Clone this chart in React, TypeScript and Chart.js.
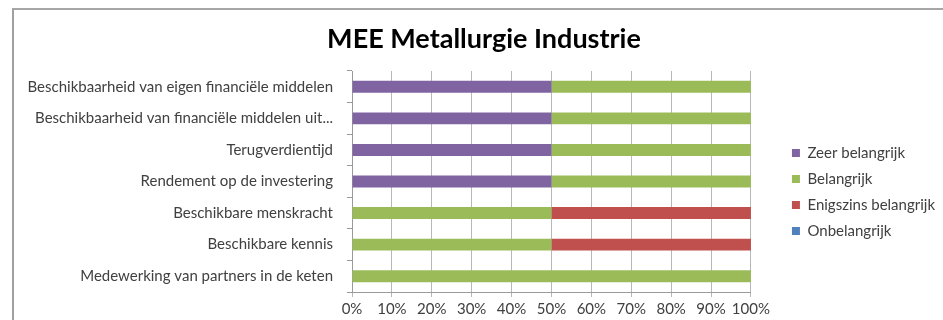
import React, { useEffect, useRef } from "react";
import { Chart, registerables } from "chart.js";

Chart.register(...registerables);

const categories = [
  "Beschikbaarheid van eigen financiële middelen",
  "Beschikbaarheid van financiële middelen uit...",
  "Terugverdientijd",
  "Rendement op de investering",
  "Beschikbare menskracht",
  "Beschikbare kennis",
  "Medewerking van partners in de keten",
];

const zeerBelangrijk = [50, 50, 50, 50, 0, 0, 0];
const belangrijk = [50, 50, 50, 50, 50, 50, 100];
const enigszinsBelangrijk = [0, 0, 0, 0, 50, 50, 0];
const onbelangrijk = [0, 0, 0, 0, 0, 0, 0];

const seriesNames = ["Zeer belangrijk", "Belangrijk", "Enigszins belangrijk", "Onbelangrijk"];
const seriesColors = ["#8064A2", "#9BBB59", "#C0504D", "#4F81BD"];

const xTickValues = [0, 10, 20, 30, 40, 50, 60, 70, 80, 90, 100];

const FONT = "Lato, 'Open Sans', sans-serif";

const layoutTweak = {
  id: "layoutTweak",
  afterLayout(chart: any) {
    const lg = chart.legend;
    if (lg) {
      const dx = 30;
      const dy = 27;
      lg.left += dx;
      lg.right += dx;
      lg.top += dy;
      lg.bottom += dy;
    }
    const tb = chart.titleBlock;
    if (tb) {
      tb.left = 0;
      tb.right = 940;
    }
  },
};

export default function App() {
  const ref = useRef<HTMLCanvasElement | null>(null);

  useEffect(() => {
    if (!ref.current) return;
    const seriesData = [zeerBelangrijk, belangrijk, enigszinsBelangrijk, onbelangrijk];
    const chart = new Chart(ref.current, {
      type: "bar",
      data: {
        labels: categories,
        datasets: seriesNames.map((name, i) => ({
          label: name,
          data: seriesData[i],
          backgroundColor: seriesColors[i],
          borderWidth: 0,
          barPercentage: 0.9,
          categoryPercentage: 0.42,
        })),
      },
      options: {
        indexAxis: "y",
        animation: false,
        responsive: false,
        maintainAspectRatio: false,
        events: [],
        layout: { padding: { left: 0, right: 43, top: 0, bottom: 0 } },
        plugins: {
          title: {
            display: true,
            text: "MEE Metallurgie Industrie",
            color: "#000000",
            font: { family: FONT, size: 27, weight: "bold" },
            padding: { top: 13, bottom: 15.6 },
          },
          legend: {
            display: true,
            position: "right",
            align: "center",
            labels: {
              boxWidth: 8,
              boxHeight: 8,
              padding: 11,
              color: "#404040",
              font: { family: FONT, size: 15 },
            },
          },
          tooltip: { enabled: false },
        },
        scales: {
          x: {
            stacked: true,
            min: 0,
            max: 100,
            afterBuildTicks(scale: any) {
              scale.ticks = xTickValues.map((v) => ({ value: v }));
            },
            afterFit(scale: any) {
              scale.height = 28;
            },
            ticks: {
              color: "#404040",
              font: { family: FONT, size: 15 },
              padding: 3,
              maxRotation: 0,
              autoSkip: false,
              callback: (v: any) => v + "%",
            },
            grid: {
              color: "#b8b8b8",
              lineWidth: 1,
              tickLength: 5,
              drawOnChartArea: true,
            },
            border: { color: "#9a9a9a", width: 1 },
          },
          y: {
            stacked: true,
            afterFit(scale: any) {
              scale.width = 338;
            },
            ticks: {
              color: "#404040",
              font: { family: FONT, size: 15 },
              padding: 14,
              autoSkip: false,
            },
            grid: {
              offset: true,
              drawOnChartArea: false,
              color: "#9a9a9a",
              tickLength: 5,
            },
            border: { color: "#9a9a9a", width: 1 },
          },
        },
      },
      plugins: [layoutTweak],
    });
    return () => chart.destroy();
  }, []);

  return (
    <div
      style={{
        position: "fixed",
        left: 0,
        top: 0,
        width: 943,
        height: 320,
        overflow: "hidden",
        background: "#ffffff",
      }}
    >
      <div
        style={{
          position: "absolute",
          left: 12,
          top: 8,
          width: 1000,
          height: 400,
          borderTop: "2px solid #a6a6a6",
          borderLeft: "2px solid #a0a0a0",
        }}
      />
      <div style={{ position: "absolute", left: 14, top: 10, width: 944, height: 310 }}>
        <canvas ref={ref} width={944} height={310} style={{ display: "block", width: 944, height: 310 }} />
      </div>
    </div>
  );
}
